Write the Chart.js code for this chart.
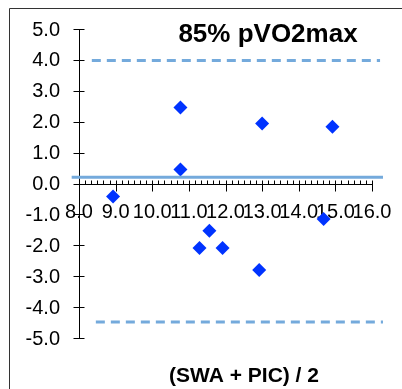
<!DOCTYPE html>
<html>
<head>
<meta charset="utf-8">
<script src="https://cdn.jsdelivr.net/npm/chart.js@4"></script>
<style>
  html, body { margin: 0; padding: 0; background: #fff; }
  #plot { display: block; }
</style>
</head>
<body>
<canvas id="plot" width="402" height="389"></canvas>
<script>
// mean of the two methods (x) and their difference (y)
const meanValues = [8.93, 10.77, 10.77, 13.0, 14.92, 14.68, 11.56, 11.29, 11.92, 12.92]
const diffValues = [-0.42, 2.46, 0.45, 1.94, 1.84, -1.15, -1.53, -2.09, -2.09, -2.80]

// bias and limits of agreement, each drawn as a line between two x values
const biasLine = { x: [7.8, 16.3], y: 0.2 }
const upperLimit = { x: [8.35, 16.22], y: 3.98 }
const lowerLimit = { x: [8.46, 16.3], y: -4.48 }

const xTicks = [8, 9, 10, 11, 12, 13, 14, 15, 16]
const yTicks = [5, 4, 3, 2, 1, 0, -1, -2, -3, -4, -5]

const chartTitle = '85% pVO2max'
const xTitle = '(SWA + PIC) / 2'

const font = '"Liberation Sans", Arial, sans-serif'
const lineBlue = '#74aadc'
const dotBlue = 'rgb(0, 51, 255)'

function toLine(l) {
  return l.x.map(x => ({ x: x, y: l.y }))
}

// axes crossing at zero, box, tick labels and titles
const excelAxes = {
  id: 'excelAxes',
  beforeDatasetsDraw(chart) {
    const ctx = chart.ctx
    const xs = chart.scales.x
    const ys = chart.scales.y
    const x0 = Math.round(xs.getPixelForValue(8)) + 0.5
    const y0 = Math.round(ys.getPixelForValue(0)) + 0.5

    ctx.save()
    ctx.strokeStyle = '#333'
    ctx.lineWidth = 1

    // outer frame (left and top visible)
    ctx.beginPath()
    ctx.moveTo(9.5, 389)
    ctx.lineTo(9.5, 8.5)
    ctx.lineTo(402, 8.5)
    ctx.stroke()

    ctx.strokeStyle = '#000'
    // y axis
    ctx.beginPath()
    ctx.moveTo(x0, ys.getPixelForValue(5))
    ctx.lineTo(x0, ys.getPixelForValue(-5))
    for (const v of yTicks) {
      const py = Math.round(ys.getPixelForValue(v)) + 0.5
      ctx.moveTo(x0 - 6, py)
      ctx.lineTo(x0 + 5, py)
    }
    ctx.stroke()

    // x axis at y = 0
    ctx.beginPath()
    ctx.moveTo(x0, y0)
    ctx.lineTo(Math.round(xs.getPixelForValue(16)) + 0.5, y0)
    for (let i = 0; i < xTicks.length; i++) {
      const px = Math.round(xs.getPixelForValue(xTicks[i])) + 0.5
      ctx.moveTo(px, y0 - 4)
      ctx.lineTo(px, y0 + 7)
      if (i < xTicks.length - 1) {
        for (let k = 1; k < 6; k++) {
          const mx = Math.round(xs.getPixelForValue(xTicks[i] + k / 6)) + 0.5
          ctx.moveTo(mx, y0 - 4)
          ctx.lineTo(mx, y0)
        }
      }
    }
    ctx.stroke()

    // tick labels
    ctx.fillStyle = '#000'
    ctx.font = '20px ' + font
    ctx.textBaseline = 'middle'
    ctx.textAlign = 'right'
    for (const v of yTicks) {
      ctx.fillText(v.toFixed(1), 60, ys.getPixelForValue(v) + 1)
    }
    ctx.textAlign = 'center'
    for (const v of xTicks) {
      ctx.fillText(v.toFixed(1), xs.getPixelForValue(v), y0 + 28)
    }

    // titles
    ctx.font = 'bold 26px ' + font
    ctx.fillText(chartTitle, 268, 35)
    ctx.font = 'bold 21px ' + font
    ctx.fillText(xTitle, 244, 376)
    ctx.restore()
  }
}

const lineStyle = {
  showLine: true,
  pointRadius: 0,
  borderColor: lineBlue,
  borderWidth: 3,
  clip: false
}

new Chart(document.getElementById('plot'), {
  type: 'scatter',
  data: {
    datasets: [
      Object.assign({ data: toLine(upperLimit), borderDash: [9, 6] }, lineStyle),
      Object.assign({ data: toLine(lowerLimit), borderDash: [9, 6] }, lineStyle),
      Object.assign({ data: toLine(biasLine) }, lineStyle),
      {
        data: meanValues.map((x, i) => ({ x: x, y: diffValues[i] })),
        pointStyle: 'rectRot',
        pointRadius: 7,
        pointHoverRadius: 7,
        backgroundColor: dotBlue,
        borderColor: dotBlue,
        borderWidth: 0,
        clip: false
      }
    ]
  },
  options: {
    responsive: false,
    devicePixelRatio: 1,
    animation: false,
    layout: { padding: { left: 79, top: 29, right: 30, bottom: 51 } },
    plugins: {
      legend: { display: false },
      tooltip: { enabled: false }
    },
    scales: {
      x: { type: 'linear', min: 8, max: 16, display: false },
      y: { type: 'linear', min: -5, max: 5, display: false }
    }
  },
  plugins: [excelAxes]
});
</script>
</body>
</html>
